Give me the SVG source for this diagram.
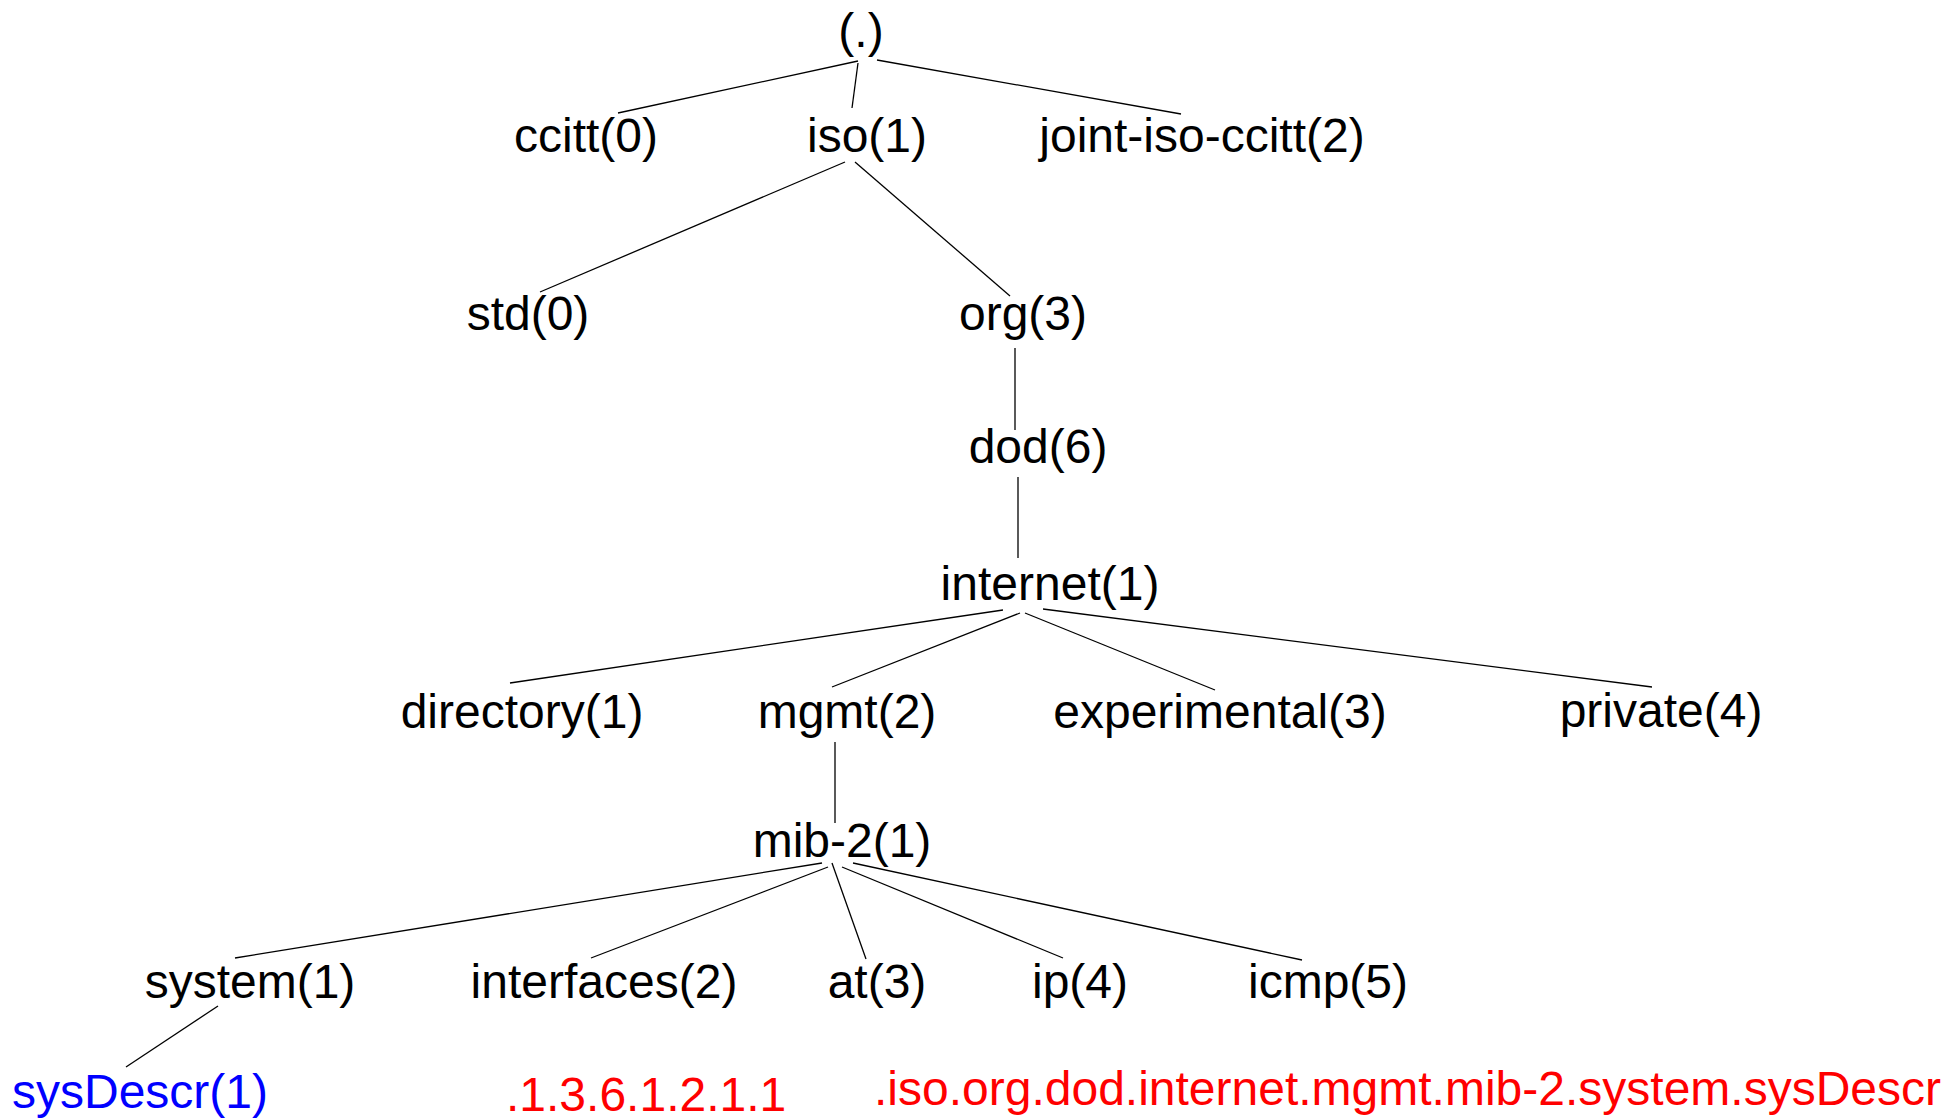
<svg xmlns="http://www.w3.org/2000/svg" width="1954" height="1120" viewBox="0 0 1954 1120">
<style>
text{font-family:"Liberation Sans",Arial,sans-serif;font-size:48px;fill:#000}
.n text{text-anchor:middle}
.blue{fill:#0000FF}
.red{fill:#FF0000}
#connectors line{stroke:#000;stroke-width:1.3}
</style>
<rect width="1954" height="1120" fill="#fff"/>
<g id="connectors">
<line x1="858" y1="61" x2="618" y2="113"/>
<line x1="858" y1="63" x2="852" y2="108"/>
<line x1="877" y1="60" x2="1181" y2="114"/>
<line x1="845" y1="162" x2="540" y2="292"/>
<line x1="855" y1="162" x2="1010" y2="296"/>
<line x1="1015" y1="348" x2="1015" y2="430"/>
<line x1="1018" y1="477" x2="1018" y2="558"/>
<line x1="1003" y1="610" x2="510" y2="683"/>
<line x1="1020" y1="613" x2="832" y2="687"/>
<line x1="1025" y1="613" x2="1215" y2="690"/>
<line x1="1043" y1="609" x2="1652" y2="687"/>
<line x1="835" y1="742" x2="835" y2="823"/>
<line x1="822" y1="863" x2="235" y2="958"/>
<line x1="828" y1="867" x2="591" y2="958"/>
<line x1="832" y1="863" x2="866" y2="959"/>
<line x1="842" y1="867" x2="1063" y2="958"/>
<line x1="853" y1="863" x2="1302" y2="960"/>
<line x1="218" y1="1006" x2="126" y2="1067"/>
</g>
<g class="n">
<g id="root"><text x="861" y="47">(.)</text></g>
<g id="ccitt"><text x="586" y="152">ccitt(0)</text></g>
<g id="iso"><text x="867" y="152">iso(1)</text></g>
<g id="joint-iso-ccitt"><text x="1202" y="152">joint-iso-ccitt(2)</text></g>
<g id="std"><text x="528" y="330">std(0)</text></g>
<g id="org"><text x="1023" y="330">org(3)</text></g>
<g id="dod"><text x="1038" y="463">dod(6)</text></g>
<g id="internet"><text x="1050" y="600">internet(1)</text></g>
<g id="directory"><text x="522" y="728">directory(1)</text></g>
<g id="mgmt"><text x="847" y="728">mgmt(2)</text></g>
<g id="experimental"><text x="1220" y="728">experimental(3)</text></g>
<g id="private"><text x="1661" y="727">private(4)</text></g>
<g id="mib-2"><text x="842" y="857">mib-2(1)</text></g>
<g id="system"><text x="250" y="998">system(1)</text></g>
<g id="interfaces"><text x="604" y="998">interfaces(2)</text></g>
<g id="at"><text x="877" y="998">at(3)</text></g>
<g id="ip"><text x="1080" y="998">ip(4)</text></g>
<g id="icmp"><text x="1328" y="998">icmp(5)</text></g>
</g>
<g id="sysDescr"><text class="blue" x="12" y="1108">sysDescr(1)</text></g>
<g id="oid-numeric"><text class="red" x="506" y="1111">.1.3.6.1.2.1.1</text></g>
<g id="oid-names"><text class="red" x="874" y="1105">.iso.org.dod.internet.mgmt.mib-2.system.sysDescr</text></g>
</svg>
